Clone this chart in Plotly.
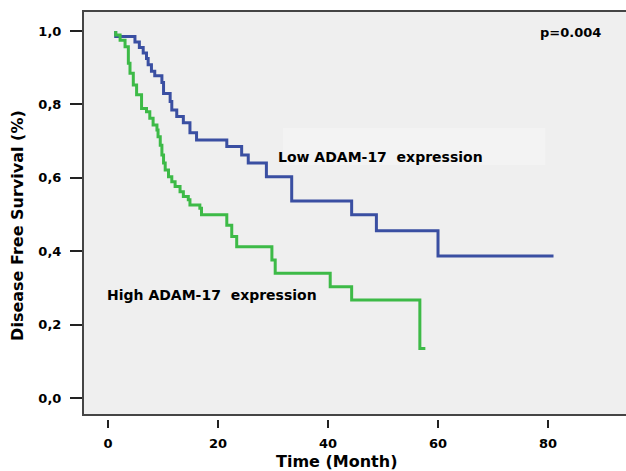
import plotly.graph_objects as go

# Kaplan-Meier step data (time in months, survival fraction)
low_times = [1.4, 1.4, 4.9, 5.7, 6.4, 7.0, 7.3, 7.9, 8.5, 9.8, 10.1, 11.3, 11.6, 12.5,
             13.7, 14.9, 16.1, 21.6, 24.3, 25.5, 28.8, 33.4, 44.3, 48.8, 60.0, 81.0]
low_surv = [1.0, 0.985, 0.970, 0.955, 0.940, 0.925, 0.908, 0.890, 0.878, 0.860, 0.830,
            0.808, 0.785, 0.767, 0.750, 0.723, 0.703, 0.685, 0.662, 0.640, 0.603, 0.537,
            0.499, 0.456, 0.387, 0.387]

high_times = [1.4, 1.4, 2.2, 3.1, 3.7, 3.7, 4.0, 4.6, 5.2, 6.1, 7.0, 7.6, 8.2, 8.9, 9.1,
              9.5, 9.8, 10.1, 10.4, 11.0, 11.6, 12.2, 13.1, 13.7, 14.6, 14.9, 16.7, 17.0,
              21.6, 22.5, 23.4, 29.8, 30.4, 40.4, 44.3, 56.7, 57.7]
high_surv = [1.0, 0.989, 0.975, 0.957, 0.930, 0.912, 0.885, 0.853, 0.826, 0.789, 0.780,
             0.762, 0.744, 0.730, 0.712, 0.689, 0.662, 0.640, 0.621, 0.603, 0.589, 0.576,
             0.562, 0.549, 0.540, 0.526, 0.517, 0.499, 0.471, 0.440, 0.412, 0.376, 0.340,
             0.303, 0.267, 0.135, 0.135]

y_tick_vals = [0.0, 0.2, 0.4, 0.6, 0.8, 1.0]
y_tick_text = ["0,0", "0,2", "0,4", "0,6", "0,8", "1,0"]
x_tick_vals = [0, 20, 40, 60, 80]

FONT = "DejaVu Sans"
BLUE = "#3a4fa2"
GREEN = "#3dba47"

fig = go.Figure()
fig.add_trace(go.Scatter(x=low_times, y=low_surv, mode="lines",
                         line=dict(color=BLUE, width=3, shape="hv"), showlegend=False))
fig.add_trace(go.Scatter(x=high_times, y=high_surv, mode="lines",
                         line=dict(color=GREEN, width=3, shape="hv"), showlegend=False))

fig.update_layout(
    width=626, height=471,
    margin=dict(l=83, r=0, t=11, b=52),
    paper_bgcolor="white", plot_bgcolor="white",
    xaxis=dict(range=[-4.545, 94.18], tickvals=x_tick_vals, ticks="outside", ticklen=8,
               tickwidth=2, tickcolor="#222", showgrid=False, zeroline=False, showline=False,
               tickfont=dict(family=FONT, size=13, color="black", weight="bold"),
               ticklabelstandoff=4),
    yaxis=dict(range=[-0.0572, 1.0545], tickvals=y_tick_vals, ticktext=y_tick_text,
               ticks="outside", ticklen=12, tickwidth=2, tickcolor="#222", showgrid=False,
               zeroline=False, showline=False,
               tickfont=dict(family=FONT, size=13, color="black", weight="bold"),
               ticklabelstandoff=6),
    shapes=[
        dict(type="rect", xref="paper", yref="paper", x0=0, x1=1.1, y0=4 / 408, y1=1,
             fillcolor="#efefef", line=dict(color="#454545", width=2), layer="below"),
        dict(type="rect", xref="x", yref="y", x0=31.8, x1=79.5, y0=0.635, y1=0.736,
             fillcolor="#f3f3f3", line=dict(width=0), layer="below"),
    ],
    annotations=[
        dict(text="p=0.004", x=78.2, y=0.995, xref="x", yref="y", xanchor="left",
             yanchor="middle", showarrow=False,
             font=dict(family=FONT, size=13, color="black", weight="bold")),
        dict(text="Low ADAM-17\u00a0\u00a0expression", x=30.5, y=0.657, xref="x", yref="y",
             xanchor="left", yanchor="middle", showarrow=False,
             font=dict(family=FONT, size=14, color="black", weight="bold")),
        dict(text="High ADAM-17\u00a0\u00a0expression", x=-0.55, y=0.281, xref="x", yref="y",
             xanchor="left", yanchor="middle", showarrow=False,
             font=dict(family=FONT, size=14, color="black", weight="bold")),
        dict(text="Time (Month)", x=41.6, y=-0.103, xref="x", yref="paper",
             xanchor="center", yanchor="middle", showarrow=False,
             font=dict(family=FONT, size=16, color="black", weight="bold")),
        dict(text="Disease Free Survival (%)", x=-0.1197, y=0.469, xref="paper", yref="y",
             xanchor="center", yanchor="middle", textangle=-90, showarrow=False,
             font=dict(family=FONT, size=16, color="black", weight="bold")),
    ],
)

fig.write_html(
    "out.html",
    config={"displayModeBar": False},
    post_script="document.body.style.margin='0';document.body.style.overflow='hidden';",
)
